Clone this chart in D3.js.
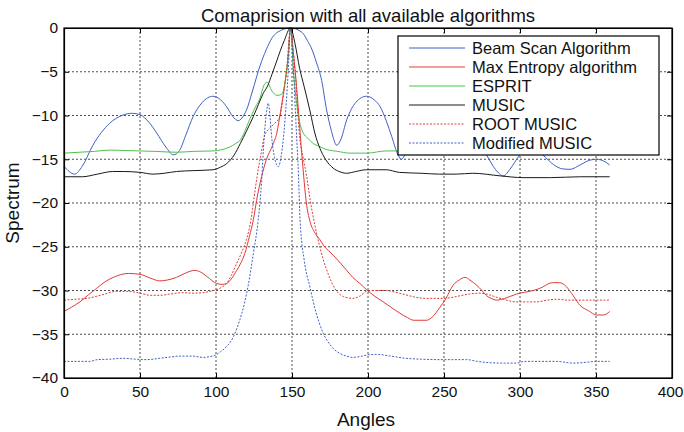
<!DOCTYPE html>
<html>
<head>
<meta charset="utf-8">
<script src="https://cdn.jsdelivr.net/npm/d3@7"></script>
<style>
  body { margin: 0; background: #fff; }
  svg { display: block; font-family: "Liberation Sans", Arial, sans-serif; }
</style>
</head>
<body>
<div id="chart"></div>
<script>
// values, [angle, spectrum]
const beamScan = [[0,-15.8],[7,-16.7],[12,-15.8],[19,-13.4],[30,-10.9],[38,-10],[45,-9.75],[50,-9.9],[56,-10.8],[61,-12],[67,-13.6],[72,-14.5],[76,-14],[80,-12.3],[85,-10.1],[91,-8.5],[98,-7.8],[103,-8.2],[107,-9],[111,-10.1],[114.7,-10.6],[117,-10.3],[120,-9.4],[124,-7.2],[129,-4.3],[133,-2.5],[137,-1.1],[143,-0.25],[149,0],[156.6,-0.5],[160,-1.4],[163,-2.4],[166,-3.9],[169.5,-6],[172.8,-9.4],[176,-11.8],[179.4,-13.4],[182,-12.8],[186,-10.5],[192,-8.5],[199,-7.8],[204,-8.2],[208,-9],[212,-10.6],[215.6,-12.4],[220,-14.6],[222,-15],[225,-14.2],[232,-11],[240,-9],[250,-8.5],[260,-9.5],[270,-12],[278,-14.5],[284,-16.2],[289,-16.9],[294,-16],[299,-14.7],[304,-13.8],[310,-13.8],[315,-14.5],[322,-15.6],[328,-16.1],[333,-16.15],[340,-15.6],[346,-15.1],[350.4,-15],[355,-15.2],[359,-15.65]];

const maxEntropy = [[0,-32.4],[5,-31.9],[10.5,-31.3],[16,-30.5],[21.5,-29.75],[27,-29],[32.4,-28.5],[37,-28.2],[42.3,-28.05],[50,-28.15],[57,-28.6],[63,-28.9],[68,-28.8],[74,-28.5],[80,-28],[86,-27.7],[90,-27.9],[94,-28.4],[100.5,-29.2],[104,-29.3],[107,-29.2],[110,-28.7],[113.6,-27.7],[116.5,-26.8],[119,-25.75],[122,-23.8],[124.6,-21.9],[126.7,-19.7],[130,-17],[133,-15.1],[137,-13.5],[140,-12],[142.5,-9.5],[145,-6.7],[147.5,-3.3],[149,0],[151,-3],[153,-6.7],[156.4,-14.3],[159.7,-20.3],[162,-22.2],[165,-23.4],[168.4,-24.2],[171,-24.9],[175,-25.6],[180,-26.5],[186,-27.7],[190,-28.5],[194.7,-29.2],[199,-29.9],[204,-30.6],[210,-31.3],[215,-31.9],[221,-32.6],[226,-33.1],[230,-33.4],[238.6,-33.4],[243,-32.9],[247,-32],[251,-31],[256,-29.4],[260,-28.8],[263.8,-28.5],[267,-28.8],[271.5,-29.4],[275,-30],[278,-30.6],[281,-30.9],[284.7,-31.1],[290,-30.9],[297.8,-30.4],[303,-30.2],[308.8,-30],[315,-29.6],[319,-29.2],[322,-29.1],[326,-29.1],[330.7,-29.6],[335,-30.6],[339.5,-31.7],[345,-32.3],[350.4,-32.8],[355,-32.8],[359,-32.4]];

const esprit = [[0,-14.3],[10,-14.2],[20,-14.1],[30,-13.95],[40,-14],[50,-14.05],[60,-14.1],[74,-14.2],[85,-14.1],[98,-14.05],[104,-13.9],[109,-13.6],[113,-13.2],[116,-12.8],[119,-11.8],[122,-10.5],[126,-9],[129,-8],[131.4,-6.6],[133.5,-6.2],[136.8,-7.2],[140,-7.7],[143,-7.6],[145.6,-6],[147.5,-3],[149,0],[151,-5],[153.3,-9],[156.6,-11.7],[161,-12.7],[164,-13.2],[167.6,-13.5],[173,-13.9],[180,-14.1],[188,-14.3],[199,-14.3],[212,-14.05],[220.6,-14.05],[240,-14.1],[270,-14.2],[300,-14.2],[330,-14.2],[359,-14.2]];

const music = [[0,-17],[12,-17],[22,-16.7],[32,-16.4],[40,-16.4],[50,-16.5],[58.6,-16.7],[66,-16.6],[74,-16.4],[85,-16.3],[98,-16.2],[103,-15.9],[107,-15.5],[112,-14.5],[116,-13.2],[120,-11.8],[124.6,-10.1],[128,-8.7],[131,-7.5],[134,-6.6],[136.8,-5.3],[139.5,-4],[142.3,-2.6],[145,-1.4],[149,0],[152,-1.8],[155,-4.6],[158,-6.7],[162,-9.6],[165,-12],[168.5,-13.8],[172,-15],[177,-16],[181,-16.4],[186,-16.6],[192,-16.4],[199,-16.2],[212,-16.2],[220.6,-16.5],[235,-16.6],[247,-16.7],[258,-16.7],[269,-16.6],[287,-16.9],[302,-17.1],[320,-17.1],[340,-17],[359,-17]];

const rootMusic = [[0,-31.1],[8,-31],[15,-30.9],[25,-30.5],[34.6,-30.1],[42,-30.1],[50,-30.3],[56.6,-30.55],[63,-30.55],[70,-30.4],[78.5,-30.25],[85,-30.3],[91.6,-30.25],[96,-30.1],[100.5,-29.9],[104,-29.6],[107,-29.2],[110,-28.3],[113.6,-26.9],[117,-25.6],[120,-24.2],[123,-21.9],[124.8,-19.7],[127,-17],[129.5,-14.5],[132,-12.3],[134.5,-11.6],[138,-11],[142,-10.1],[144.5,-7.5],[146.5,-4.8],[149,0],[151,-3],[152,-4.8],[155,-12.4],[157.5,-15],[159.7,-17],[162,-19.7],[165,-22.5],[168,-24.8],[170.6,-26.5],[174,-28.2],[177,-29.4],[180,-30.2],[184,-30.7],[190,-30.9],[195,-30.6],[199,-30.1],[205,-30],[212,-30],[218,-30.2],[225,-30.5],[232,-30.8],[238.6,-30.9],[249.5,-30.9],[255,-30.8],[260.5,-30.6],[267,-30.4],[273.7,-30.3],[280,-30.5],[285,-30.8],[289,-31],[297.8,-31.3],[305,-31.3],[311,-31.3],[318,-31.1],[324,-31],[332,-31.1],[339.5,-31.1],[350,-31.1],[359,-31.1]];

const modifiedMusic = [[0,-38.1],[10,-38.1],[17,-38.1],[22,-37.9],[30,-37.85],[39,-37.75],[47,-37.85],[54.4,-37.9],[63,-37.75],[70,-37.6],[76,-37.5],[85,-37.5],[91.6,-37.65],[96,-37.55],[99.3,-37.4],[103,-37],[107,-36.4],[111.4,-35.3],[114,-34.2],[117,-32.6],[121,-29.6],[124.6,-25.75],[127.8,-21.9],[130,-17.5],[131.5,-13],[133.3,-9.5],[134.4,-8.6],[135.5,-10],[136.6,-12.4],[138.5,-14.8],[141,-15.85],[143,-14.5],[145.4,-10.5],[147.5,-5],[149,0],[151,-5],[152.5,-10.5],[154.3,-17],[155.3,-21.9],[158,-26.5],[161.8,-29.6],[165,-32],[170.6,-34.9],[176,-36.4],[181.6,-37.2],[186,-37.5],[190,-37.65],[196,-37.5],[200,-37.35],[205.7,-37.3],[215,-37.5],[225,-37.75],[235,-37.85],[247,-37.9],[255,-37.9],[264.9,-37.9],[272,-38.1],[280,-38.25],[290,-38.3],[297.8,-38.3],[303,-38.1],[308,-38.1],[316,-38.1],[324,-38.1],[335,-38.3],[344,-38.2],[350,-38.1],[359,-38.1]];

const seriesNames = ["Beam Scan Algorithm", "Max Entropy algorithm", "ESPRIT", "MUSIC", "ROOT MUSIC", "Modified MUSIC"];
const xTicks = [0, 50, 100, 150, 200, 250, 300, 350, 400];
const yTicks = [0, -5, -10, -15, -20, -25, -30, -35, -40];

const seriesData = [beamScan, maxEntropy, esprit, music, rootMusic, modifiedMusic];
const colors = ["#4060c4", "#e03a36", "#4cc24c", "#1a1a1a", "#e03a36", "#4060c4"];
const dashes = [null, null, null, null, "2,1.5", "2,1.5"];

const width = 684, height = 432;
const margin = {top: 28, right: 12, bottom: 54, left: 64};

const svg = d3.select("#chart").append("svg")
  .attr("width", width)
  .attr("height", height);

const x = d3.scaleLinear().domain([0, 400]).range([margin.left, width - margin.right]);
const y = d3.scaleLinear().domain([-40, 0]).range([height - margin.bottom, margin.top]);

// grid
svg.append("g")
  .selectAll("line")
  .data(xTicks.slice(1, -1))
  .join("line")
  .attr("x1", d => x(d)).attr("x2", d => x(d))
  .attr("y1", y(0)).attr("y2", y(-40))
  .attr("stroke", "#222").attr("stroke-width", 0.8).attr("stroke-dasharray", "2,2");

svg.append("g")
  .selectAll("line")
  .data(yTicks.slice(1, -1))
  .join("line")
  .attr("x1", x(0)).attr("x2", x(400))
  .attr("y1", d => y(d)).attr("y2", d => y(d))
  .attr("stroke", "#222").attr("stroke-width", 0.8).attr("stroke-dasharray", "2,2");

// curves
const line = d3.line()
  .x(d => x(d[0]))
  .y(d => y(d[1]))
  .curve(d3.curveMonotoneX);

svg.append("g")
  .selectAll("path")
  .data(seriesData)
  .join("path")
  .attr("fill", "none")
  .attr("stroke", (d, i) => colors[i])
  .attr("stroke-width", 1)
  .attr("stroke-dasharray", (d, i) => dashes[i])
  .attr("d", line);

// axes with inward ticks, MATLAB style
const xAxis = svg.append("g")
  .attr("transform", `translate(0,${y(-40)})`)
  .call(d3.axisBottom(x).tickValues(xTicks).tickSizeInner(-5).tickSizeOuter(0).tickPadding(8));
const yAxis = svg.append("g")
  .attr("transform", `translate(${x(0)},0)`)
  .call(d3.axisLeft(y).tickValues(yTicks).tickSizeInner(-5).tickSizeOuter(0).tickPadding(6));
svg.append("g")
  .attr("transform", `translate(0,${y(0)})`)
  .call(d3.axisTop(x).tickValues(xTicks).tickSizeInner(-5).tickSizeOuter(0).tickFormat(""));
svg.append("g")
  .attr("transform", `translate(${x(400)},0)`)
  .call(d3.axisRight(y).tickValues(yTicks).tickSizeInner(-5).tickSizeOuter(0).tickFormat(""));

svg.selectAll(".domain").attr("stroke", "#000").attr("stroke-width", 1.2);
svg.selectAll(".tick line").attr("stroke", "#000");
xAxis.selectAll("text").attr("font-size", 15.5).attr("fill", "#111").attr("font-family", "Liberation Sans, Arial, sans-serif");
// keep the last label inside the window
xAxis.selectAll("text").filter(d => d === 400).attr("text-anchor", "end").attr("dx", 11);
yAxis.selectAll("text").attr("font-size", 15.5).attr("fill", "#111").attr("font-family", "Liberation Sans, Arial, sans-serif");

// box
svg.append("rect")
  .attr("x", x(0)).attr("y", y(0))
  .attr("width", x(400) - x(0)).attr("height", y(-40) - y(0))
  .attr("fill", "none").attr("stroke", "#000").attr("stroke-width", 1.2);

// title and axis labels
svg.append("text")
  .attr("x", (x(0) + x(400)) / 2).attr("y", 22)
  .attr("text-anchor", "middle").attr("font-size", 18.5).attr("fill", "#111")
  .text("Comaprision with all available algorithms");

svg.append("text")
  .attr("x", (x(0) + x(400)) / 2 - 2).attr("y", 426)
  .attr("text-anchor", "middle").attr("font-size", 19).attr("fill", "#111")
  .text("Angles");

svg.append("text")
  .attr("transform", `translate(19,${(y(0) + y(-40)) / 2}) rotate(-90)`)
  .attr("text-anchor", "middle").attr("font-size", 19).attr("fill", "#111")
  .text("Spectrum");

// legend
const legend = svg.append("g").attr("transform", "translate(398,36)");
legend.append("rect")
  .attr("width", 261).attr("height", 119)
  .attr("fill", "#fff").attr("stroke", "#000").attr("stroke-width", 1.2);

const item = legend.selectAll("g.item")
  .data(seriesNames)
  .join("g")
  .attr("class", "item")
  .attr("transform", (d, i) => `translate(0,${12 + i * 19})`);

item.append("line")
  .attr("x1", 11).attr("x2", 67)
  .attr("stroke", (d, i) => colors[i])
  .attr("stroke-dasharray", (d, i) => dashes[i]);

item.append("text")
  .attr("x", 74).attr("dy", "0.36em")
  .attr("font-size", 16.5).attr("fill", "#111")
  .text(d => d);
</script>
</body>
</html>
